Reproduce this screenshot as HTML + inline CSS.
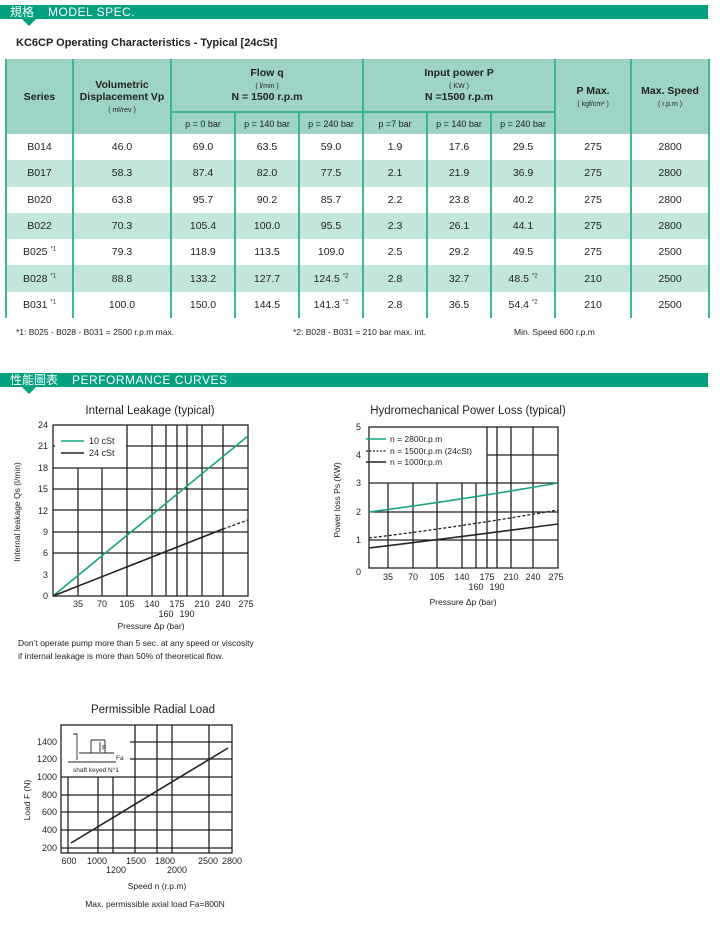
<!DOCTYPE html>
<html><head><meta charset="utf-8">
<style>
body{margin:0;background:#fff;width:720px;height:935px;position:relative;font-family:"Liberation Sans","Noto Sans CJK TC",sans-serif;overflow:hidden}
.ban{position:absolute;left:0;width:708px;height:14px;background:#00a07f;color:#fff;font-size:12px;line-height:14px}
.tri{position:absolute;width:0;height:0;border-left:7px solid transparent;border-right:7px solid transparent;border-top:7px solid #00a07f}
table{position:absolute;left:5px;top:59px;border-collapse:collapse;font-size:10.5px;color:#222;table-layout:fixed;width:703px}
td{text-align:center;border-left:2px solid #3fb49a;border-right:2px solid #3fb49a;padding:0}
tr.h td{background:#9dd4c5;font-weight:bold}
tr.alt td{background:#c2e5dc}
tr.d td{height:26.3px}
.s{font-size:7px;font-weight:normal}
sup{font-size:6px}
svg text{font-family:"Liberation Sans",sans-serif}
</style></head><body>
<div class="ban" style="top:5px"><span style="margin-left:10px">規格</span><span style="margin-left:14px;letter-spacing:0.5px">MODEL SPEC.</span></div>
<div class="tri" style="left:22px;top:19px"></div>
<div style="position:absolute;left:16px;top:37px;font-size:11px;font-weight:bold;color:#222">KC6CP Operating Characteristics - Typical [24cSt]</div>
<table>
<colgroup><col style="width:67px"><col style="width:98px"><col style="width:64px"><col style="width:64px"><col style="width:64px"><col style="width:64px"><col style="width:64px"><col style="width:64px"><col style="width:76px"><col style="width:78px"></colgroup>
<tr class="h" style="height:53px"><td rowspan="2">Series</td><td rowspan="2">Volumetric<br>Displacement Vp<br><span class="s">( ml/rev )</span></td><td colspan="3">Flow q<br><span class="s">( l/min )</span><br>N = 1500 r.p.m</td><td colspan="3">Input power P<br><span class="s">( KW )</span><br>N =1500 r.p.m</td><td rowspan="2">P Max.<br><span class="s">( kgf/cm² )</span></td><td rowspan="2">Max. Speed<br><span class="s">( r.p.m )</span></td></tr>
<tr class="h" style="height:22px;font-size:9px"><td style="font-weight:normal;border-top:2px solid #3fb49a">p = 0 bar</td><td style="font-weight:normal;border-top:2px solid #3fb49a">p = 140 bar</td><td style="font-weight:normal;border-top:2px solid #3fb49a">p = 240 bar</td><td style="font-weight:normal;border-top:2px solid #3fb49a">p =7 bar</td><td style="font-weight:normal;border-top:2px solid #3fb49a">p = 140 bar</td><td style="font-weight:normal;border-top:2px solid #3fb49a">p = 240 bar</td></tr>
<tr class="d"><td>B014</td><td>46.0</td><td>69.0</td><td>63.5</td><td>59.0</td><td>1.9</td><td>17.6</td><td>29.5</td><td>275</td><td>2800</td></tr>
<tr class="d alt"><td>B017</td><td>58.3</td><td>87.4</td><td>82.0</td><td>77.5</td><td>2.1</td><td>21.9</td><td>36.9</td><td>275</td><td>2800</td></tr>
<tr class="d"><td>B020</td><td>63.8</td><td>95.7</td><td>90.2</td><td>85.7</td><td>2.2</td><td>23.8</td><td>40.2</td><td>275</td><td>2800</td></tr>
<tr class="d alt"><td>B022</td><td>70.3</td><td>105.4</td><td>100.0</td><td>95.5</td><td>2.3</td><td>26.1</td><td>44.1</td><td>275</td><td>2800</td></tr>
<tr class="d"><td>B025 <sup>*1</sup></td><td>79.3</td><td>118.9</td><td>113.5</td><td>109.0</td><td>2.5</td><td>29.2</td><td>49.5</td><td>275</td><td>2500</td></tr>
<tr class="d alt"><td>B028 <sup>*1</sup></td><td>88.8</td><td>133.2</td><td>127.7</td><td>124.5 <sup>*2</sup></td><td>2.8</td><td>32.7</td><td>48.5 <sup>*2</sup></td><td>210</td><td>2500</td></tr>
<tr class="d"><td>B031 <sup>*1</sup></td><td>100.0</td><td>150.0</td><td>144.5</td><td>141.3 <sup>*2</sup></td><td>2.8</td><td>36.5</td><td>54.4 <sup>*2</sup></td><td>210</td><td>2500</td></tr>
</table>
<div style="position:absolute;top:327px;left:16px;font-size:8.5px;color:#222">*1: B025 - B028 - B031 = 2500 r.p.m max.</div>
<div style="position:absolute;top:327px;left:293px;font-size:8.5px;color:#222">*2: B028 - B031 = 210 bar max. int.</div>
<div style="position:absolute;top:327px;left:514px;font-size:8.5px;color:#222">Min. Speed 600 r.p.m</div>
<div class="ban" style="top:373px"><span style="margin-left:10px">性能圖表</span><span style="margin-left:14px;letter-spacing:0.5px">PERFORMANCE CURVES</span></div>
<div class="tri" style="left:22px;top:387px"></div>

<svg width="720" height="935" style="position:absolute;left:0;top:0" font-size="9" fill="#222">
<!-- Chart 1 -->
<text x="150" y="414" font-size="11.5" text-anchor="middle">Internal Leakage (typical)</text>
<g stroke="#222" stroke-width="1.3" fill="none">
<rect x="53" y="425" width="195" height="171"/>
<line x1="53" y1="553" x2="248" y2="553"/><line x1="53" y1="532" x2="248" y2="532"/><line x1="53" y1="510" x2="248" y2="510"/><line x1="53" y1="489" x2="248" y2="489"/><line x1="53" y1="468" x2="248" y2="468"/><line x1="53" y1="446" x2="248" y2="446"/>
<line x1="78" y1="468" x2="78" y2="596"/><line x1="102" y1="468" x2="102" y2="596"/>
<line x1="127" y1="425" x2="127" y2="596"/><line x1="152" y1="425" x2="152" y2="596"/><line x1="166" y1="425" x2="166" y2="596"/><line x1="177" y1="425" x2="177" y2="596"/><line x1="187" y1="425" x2="187" y2="596"/><line x1="202" y1="425" x2="202" y2="596"/><line x1="223" y1="425" x2="223" y2="596"/>
</g>
<rect x="55" y="427" width="71" height="40" fill="#fff"/>
<line x1="61" y1="441" x2="84" y2="441" stroke="#1aa282" stroke-width="1.6"/><text x="89" y="444">10 cSt</text>
<line x1="61" y1="453" x2="84" y2="453" stroke="#222" stroke-width="1.6"/><text x="89" y="456">24 cSt</text>
<line x1="53" y1="596" x2="248" y2="436" stroke="#1aa282" stroke-width="1.6"/>
<line x1="53" y1="596" x2="223" y2="529" stroke="#222" stroke-width="1.6"/>
<line x1="223" y1="529" x2="248" y2="520" stroke="#222" stroke-width="1.3" stroke-dasharray="3,2"/>
<g text-anchor="end"><text x="48" y="599">0</text><text x="48" y="578">3</text><text x="48" y="556">6</text><text x="48" y="535">9</text><text x="48" y="514">12</text><text x="48" y="492">15</text><text x="48" y="471">18</text><text x="48" y="449">21</text><text x="48" y="428">24</text></g>
<g text-anchor="middle"><text x="78" y="607">35</text><text x="102" y="607">70</text><text x="127" y="607">105</text><text x="152" y="607">140</text><text x="177" y="607">175</text><text x="202" y="607">210</text><text x="223" y="607">240</text><text x="246" y="607">275</text><text x="166" y="617">160</text><text x="187" y="617">190</text><text x="151" y="629" font-size="8.5">Pressure Δp  (bar)</text></g>
<text transform="translate(20,512) rotate(-90)" text-anchor="middle" font-size="8.5">Internal leakage Qs  (l/min)</text>
<text x="18" y="646" font-size="8.5">Don’t operate pump more than 5 sec. at any speed or viscosity</text>
<text x="18" y="659" font-size="8.5">if internal leakage is more than 50% of theoretical flow.</text>

<!-- Chart 2 -->
<text x="468" y="414" font-size="11.5" text-anchor="middle">Hydromechanical Power Loss  (typical)</text>
<g stroke="#222" stroke-width="1.3" fill="none">
<rect x="369" y="427" width="189" height="141"/>
<line x1="369" y1="540" x2="558" y2="540"/><line x1="369" y1="512" x2="558" y2="512"/><line x1="369" y1="483" x2="558" y2="483"/><line x1="487" y1="455" x2="558" y2="455"/>
<line x1="388" y1="483" x2="388" y2="568"/><line x1="413" y1="483" x2="413" y2="568"/><line x1="437" y1="483" x2="437" y2="568"/><line x1="462" y1="483" x2="462" y2="568"/><line x1="476" y1="483" x2="476" y2="568"/>
<line x1="487" y1="427" x2="487" y2="568"/><line x1="497" y1="427" x2="497" y2="568"/><line x1="511" y1="427" x2="511" y2="568"/><line x1="533" y1="427" x2="533" y2="568"/>
</g>
<rect x="371" y="429" width="115" height="50" fill="#fff"/>
<line x1="366" y1="439" x2="386" y2="439" stroke="#1aa282" stroke-width="1.6"/><text x="390" y="442" font-size="8.5">n = 2800r.p.m</text>
<line x1="366" y1="451" x2="386" y2="451" stroke="#222" stroke-width="1.3" stroke-dasharray="2,1.5"/><text x="390" y="454" font-size="8.5">n = 1500r.p.m (24cSt)</text>
<line x1="366" y1="462" x2="386" y2="462" stroke="#222" stroke-width="1.6"/><text x="390" y="465" font-size="8.5">n = 1000r.p.m</text>
<path d="M369 512 Q460 500 558 483" stroke="#1aa282" stroke-width="1.6" fill="none"/>
<path d="M369 538 Q460 527 558 510" stroke="#222" stroke-width="1.3" stroke-dasharray="3,2" fill="none"/>
<path d="M369 548 Q460 537 558 524" stroke="#222" stroke-width="1.6" fill="none"/>
<g text-anchor="end"><text x="361" y="575">0</text><text x="361" y="543">1</text><text x="361" y="515">2</text><text x="361" y="486">3</text><text x="361" y="458">4</text><text x="361" y="430">5</text></g>
<g text-anchor="middle"><text x="388" y="580">35</text><text x="413" y="580">70</text><text x="437" y="580">105</text><text x="462" y="580">140</text><text x="487" y="580">175</text><text x="511" y="580">210</text><text x="533" y="580">240</text><text x="556" y="580">275</text><text x="476" y="590">160</text><text x="497" y="590">190</text><text x="463" y="605" font-size="8.5">Pressure Δp  (bar)</text></g>
<text transform="translate(340,500) rotate(-90)" text-anchor="middle" font-size="8.5">Power loss Ps  (KW)</text>

<!-- Chart 3 -->
<text x="153" y="713" font-size="11.5" text-anchor="middle">Permissible Radial Load</text>
<g stroke="#222" stroke-width="1.3" fill="none">
<rect x="61" y="725" width="171" height="128"/>
<line x1="130" y1="742" x2="232" y2="742"/><line x1="130" y1="759" x2="232" y2="759"/>
<line x1="61" y1="777" x2="232" y2="777"/><line x1="61" y1="795" x2="232" y2="795"/><line x1="61" y1="812" x2="232" y2="812"/><line x1="61" y1="830" x2="232" y2="830"/><line x1="61" y1="848" x2="232" y2="848"/>
<line x1="68" y1="777" x2="68" y2="853"/><line x1="98" y1="777" x2="98" y2="853"/><line x1="113" y1="777" x2="113" y2="853"/>
<line x1="135" y1="725" x2="135" y2="853"/><line x1="157" y1="725" x2="157" y2="853"/><line x1="172" y1="725" x2="172" y2="853"/><line x1="209" y1="725" x2="209" y2="853"/>
</g>
<rect x="63" y="727" width="66" height="48" fill="#fff"/>
<g stroke="#222" stroke-width="0.9" fill="none">
<path d="M73 734 H77 V760"/><path d="M79 753 H114"/><path d="M68 762 H116"/><path d="M91 740 V753 M105 740 V753 M91 740 H105"/><path d="M100 742 V752"/>
</g>
<text x="102" y="750" font-size="7">F</text><text x="116" y="760" font-size="6.5">Fa</text>
<text x="73" y="772" font-size="6.5">shaft keyed N°1</text>
<line x1="71" y1="843" x2="228" y2="748" stroke="#222" stroke-width="1.6"/>
<g text-anchor="end"><text x="57" y="851">200</text><text x="57" y="833">400</text><text x="57" y="815">600</text><text x="57" y="798">800</text><text x="57" y="780">1000</text><text x="57" y="762">1200</text><text x="57" y="745">1400</text></g>
<g text-anchor="middle"><text x="69" y="864">600</text><text x="97" y="864">1000</text><text x="136" y="864">1500</text><text x="165" y="864">1800</text><text x="208" y="864">2500</text><text x="232" y="864">2800</text><text x="116" y="873">1200</text><text x="177" y="873">2000</text><text x="157" y="889" font-size="8.5">Speed n  (r.p.m)</text><text x="155" y="907" font-size="8.5">Max. permissible axial load    Fa=800N</text></g>
<text transform="translate(30,800) rotate(-90)" text-anchor="middle" font-size="8.5">Load F  (N)</text>
</svg>
</body></html>
